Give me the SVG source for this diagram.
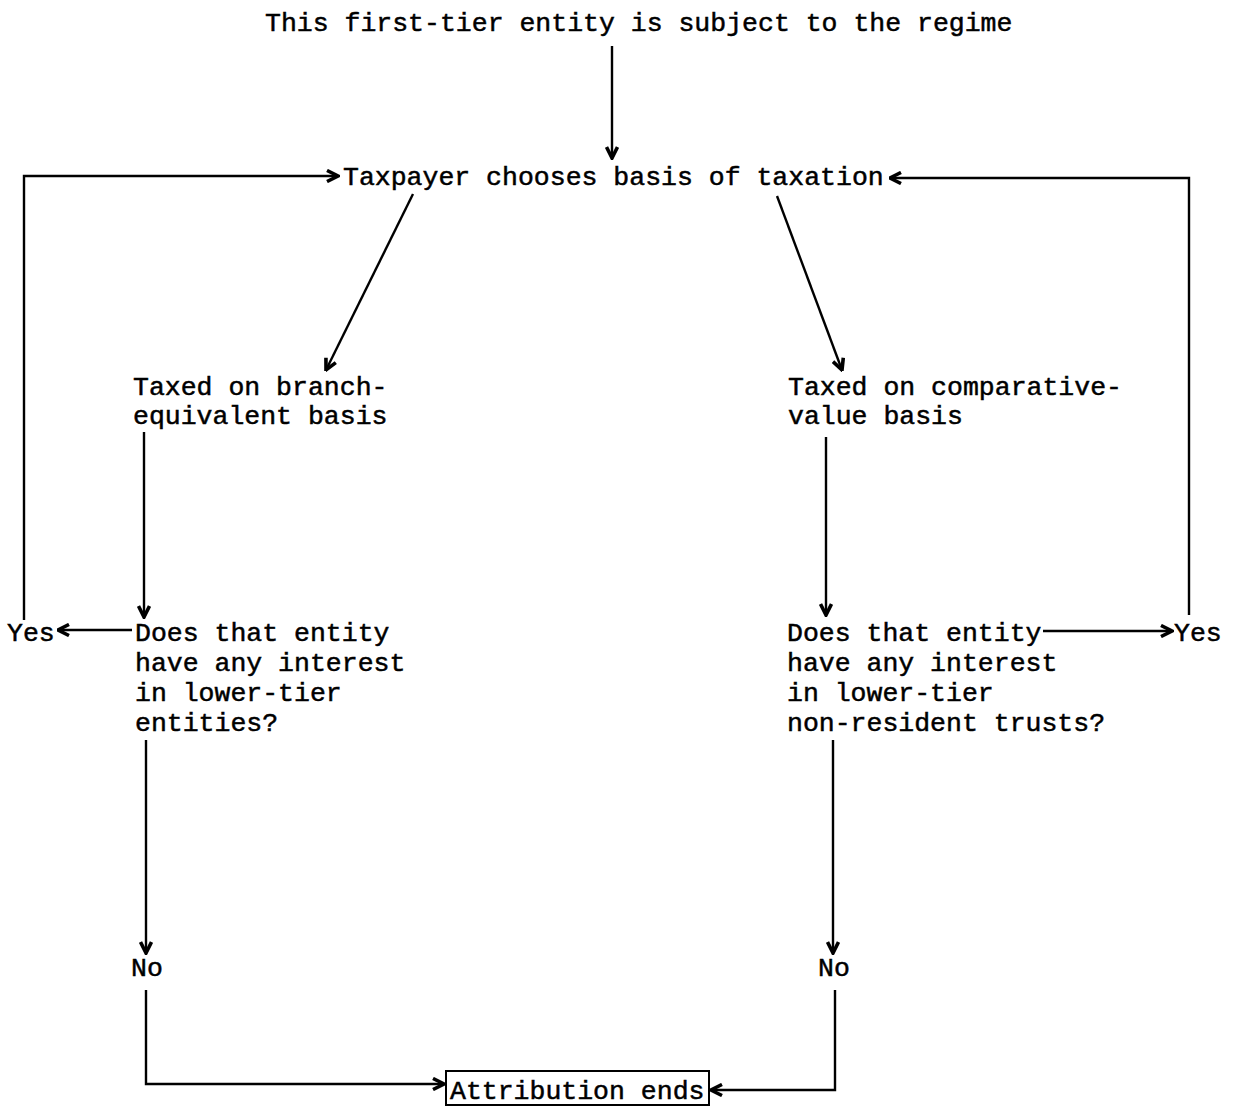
<svg xmlns="http://www.w3.org/2000/svg" width="1233" height="1111" viewBox="0 0 1233 1111">
<style>
text{font-family:"Liberation Mono","Courier New",monospace;font-size:26.5px;fill:#000;stroke:#000;stroke-width:0.5}
.c{fill:none;stroke:#000;stroke-width:2.4}
</style>
<defs>
<marker id="ah" viewBox="0 0 14 14" refX="12.5" refY="7" markerWidth="14" markerHeight="14" markerUnits="userSpaceOnUse" orient="auto">
<path d="M1.5,1.5 L12.5,7 L1.5,12.5" fill="none" stroke="#000" stroke-width="3.6" stroke-linejoin="miter"/>
</marker>
</defs>
<rect width="1233" height="1111" fill="#fff"/>
<g id="n-top"><text x="265" y="31">This first-tier entity is subject to the regime</text></g>
<g id="n-choose"><text x="343" y="185">Taxpayer chooses basis of taxation</text></g>
<g id="n-branch"><text x="133" y="395">Taxed on branch-</text><text x="133" y="424">equivalent basis</text></g>
<g id="n-comp"><text x="788" y="395">Taxed on comparative-</text><text x="788" y="424">value basis</text></g>
<g id="n-q1"><text x="135" y="641">Does that entity</text><text x="135" y="671">have any interest</text><text x="135" y="701">in lower-tier</text><text x="135" y="731">entities?</text></g>
<g id="n-q2"><text x="787" y="641">Does that entity</text><text x="787" y="671">have any interest</text><text x="787" y="701">in lower-tier</text><text x="787" y="731">non-resident trusts?</text></g>
<g id="n-yes1"><text x="7" y="641">Yes</text></g>
<g id="n-yes2"><text x="1174" y="641">Yes</text></g>
<g id="n-no1"><text x="131" y="976">No</text></g>
<g id="n-no2"><text x="818" y="976">No</text></g>
<g id="n-end"><rect x="446" y="1071" width="263" height="34" fill="none" stroke="#000" stroke-width="2"/><text x="450" y="1099">Attribution ends</text></g>
<g id="connectors">
<path class="c" d="M612,46 L612,158" marker-end="url(#ah)"/>
<path class="c" d="M24,620 L24,176 L338,176" marker-end="url(#ah)"/>
<path class="c" d="M1189,615 L1189,178 L890,178" marker-end="url(#ah)"/>
<path class="c" d="M413,194 L326,370" marker-end="url(#ah)"/>
<path class="c" d="M777,196 L842,370" marker-end="url(#ah)"/>
<path class="c" d="M144,432 L144,617" marker-end="url(#ah)"/>
<path class="c" d="M132,630 L58,630" marker-end="url(#ah)"/>
<path class="c" d="M826,437 L826,615" marker-end="url(#ah)"/>
<path class="c" d="M1043,631 L1172,631" marker-end="url(#ah)"/>
<path class="c" d="M146,740 L146,953" marker-end="url(#ah)"/>
<path class="c" d="M833,740 L833,953" marker-end="url(#ah)"/>
<path class="c" d="M146,990 L146,1084 L444,1084" marker-end="url(#ah)"/>
<path class="c" d="M835,990 L835,1090 L711,1090" marker-end="url(#ah)"/>
</g>
</svg>
